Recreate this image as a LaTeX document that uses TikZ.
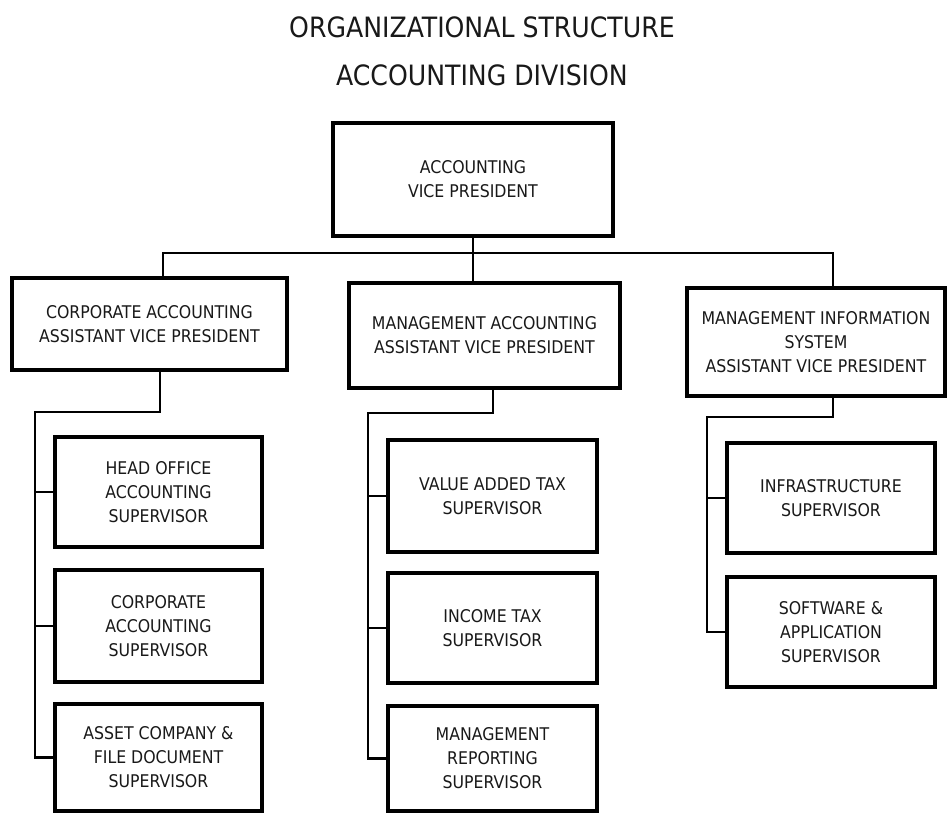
\documentclass[tikz,border=0pt]{standalone}
\usepackage{fontspec}
\setmainfont{DejaVu Sans Condensed}
\begin{document}
\begin{tikzpicture}[x=1pt,y=-1pt,
  box/.style={draw=black,line width=3.4pt,fill=white,align=center,inner sep=2pt,
    font=\fontsize{17.5}{24}\selectfont,text=black!90},
  link/.style={draw=black,line width=2.4pt,line join=miter},
  ttl/.style={font=\fontsize{28}{34}\selectfont,text=black!90,anchor=base}]
\useasboundingbox (0,0) rectangle (948,814);
\fill[white] (0,0) rectangle (948,814);

% titles
\node[ttl] (t1) at (482,37) {ORGANIZATIONAL STRUCTURE};
\node[ttl] (t2) at (482,85) {ACCOUNTING DIVISION};

% top
\node[box,minimum width=280pt,minimum height=113pt] (top) at (473,179.5) {ACCOUNTING\\VICE PRESIDENT};

% second level
\node[box,minimum width=275pt,minimum height=92pt] (lbox) at (149.5,324) {CORPORATE ACCOUNTING\\ASSISTANT VICE PRESIDENT};
\node[box,minimum width=271pt,minimum height=105pt] (mbox) at (484.5,335.5) {MANAGEMENT ACCOUNTING\\ASSISTANT VICE PRESIDENT};
\node[box,minimum width=258pt,minimum height=108pt] (rbox) at (816,342) {MANAGEMENT INFORMATION\\SYSTEM\\ASSISTANT VICE PRESIDENT};

% left column
\node[box,minimum width=207pt,minimum height=110pt] (l1) at (158.5,492) {HEAD OFFICE\\ACCOUNTING\\SUPERVISOR};
\node[box,minimum width=207pt,minimum height=112pt] (l2) at (158.5,626) {CORPORATE\\ACCOUNTING\\SUPERVISOR};
\node[box,minimum width=207pt,minimum height=107pt] (l3) at (158.5,757.5) {ASSET COMPANY \&\\FILE DOCUMENT\\SUPERVISOR};

% middle column
\node[box,minimum width=209pt,minimum height=112pt] (m1) at (492.5,496) {VALUE ADDED TAX\\SUPERVISOR};
\node[box,minimum width=209pt,minimum height=110pt] (m2) at (492.5,628) {INCOME TAX\\SUPERVISOR};
\node[box,minimum width=209pt,minimum height=105pt] (m3) at (492.5,758.5) {MANAGEMENT\\REPORTING\\SUPERVISOR};

% right column
\node[box,minimum width=208pt,minimum height=110pt] (r1) at (831,498) {INFRASTRUCTURE\\SUPERVISOR};
\node[box,minimum width=208pt,minimum height=110pt] (r2) at (831,632) {SOFTWARE \&\\APPLICATION\\SUPERVISOR};

% connectors level 1
\coordinate (bl) at (163,253);
\coordinate (br) at (833,253);
\draw[link] (top.south) -- (top.south |- mbox.north);
\draw[link] (bl |- lbox.north) -- (bl) -- (br) -- (br |- rbox.north);

% left subtree
\coordinate (lj) at (160,412);
\coordinate (ls) at (35,412);
\draw[link] (lj |- lbox.south) -- (lj) -- (ls) -- (ls |- l3.west) -- (l3.west);
\draw[link] (ls |- l1.west) -- (l1.west);
\draw[link] (ls |- l2.west) -- (l2.west);

% middle subtree
\coordinate (mj) at (493,413);
\coordinate (ms) at (368,413);
\draw[link] (mj |- mbox.south) -- (mj) -- (ms) -- (ms |- m3.west) -- (m3.west);
\draw[link] (ms |- m1.west) -- (m1.west);
\draw[link] (ms |- m2.west) -- (m2.west);

% right subtree
\coordinate (rj) at (833,417);
\coordinate (rs) at (707,417);
\draw[link] (rj |- rbox.south) -- (rj) -- (rs) -- (rs |- r2.west) -- (r2.west);
\draw[link] (rs |- r1.west) -- (r1.west);
\end{tikzpicture}
\end{document}
